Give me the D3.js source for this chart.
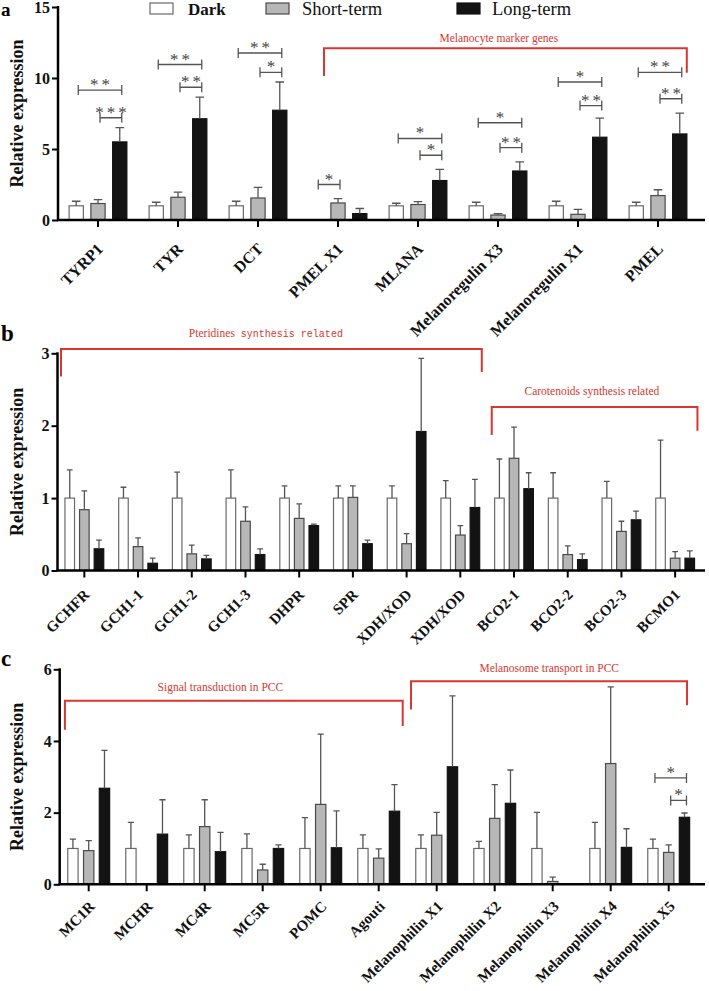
<!DOCTYPE html>
<html>
<head>
<meta charset="utf-8">
<script src="https://cdn.jsdelivr.net/npm/d3@7"></script>
<style>
body { margin: 0; background: #fff; }
text { font-family: "Liberation Serif", "Times New Roman", serif; }
</style>
</head>
<body>
<script>
const seriesNames = ["Dark", "Short-term", "Long-term"];

// panel a
const genesA = ["TYRP1", "TYR", "DCT", "PMEL X1", "MLANA", "Melanoregulin X3", "Melanoregulin X1", "PMEL"];
const darkA = [1, 1, 1, 0, 1, 1, 1, 1];
const darkErrA = [0.32, 0.25, 0.32, 0, 0.18, 0.25, 0.32, 0.25];
const shortA = [1.16, 1.6, 1.55, 1.2, 1.09, 0.35, 0.4, 1.72];
const shortErrA = [0.28, 0.37, 0.75, 0.3, 0.21, 0.1, 0.35, 0.41];
const longA = [5.5, 7.13, 7.73, 0.45, 2.78, 3.45, 5.83, 6.06];
const longErrA = [1.0, 1.53, 1.99, 0.36, 0.78, 0.65, 1.34, 1.46];
const ticksA = [0, 5, 10, 15];
const sigA = [
  { gene: 0, from: 0, to: 2, y: 9.15, label: "**" },
  { gene: 0, from: 1, to: 2, y: 7.2, label: "***" },
  { gene: 1, from: 0, to: 2, y: 10.95, label: "**" },
  { gene: 1, from: 1, to: 2, y: 9.35, label: "**" },
  { gene: 2, from: 0, to: 2, y: 11.76, label: "**" },
  { gene: 2, from: 1, to: 2, y: 10.4, label: "*" },
  { gene: 3, from: 0, to: 1, y: 2.5, label: "*" },
  { gene: 4, from: 0, to: 2, y: 5.74, label: "*" },
  { gene: 4, from: 1, to: 2, y: 4.56, label: "*" },
  { gene: 5, from: 0, to: 2, y: 6.85, label: "*" },
  { gene: 5, from: 1, to: 2, y: 5.09, label: "**" },
  { gene: 6, from: 0, to: 2, y: 9.72, label: "*" },
  { gene: 6, from: 1, to: 2, y: 8.06, label: "**" },
  { gene: 7, from: 0, to: 2, y: 10.4, label: "**" },
  { gene: 7, from: 1, to: 2, y: 8.54, label: "**" }
];
const groupsA = [
  { label: "Melanocyte marker genes", from: 3.325, to: 7.86, top: 12.1, legL: 10.14, legR: 10.37, at: 5.51, labelY: 12.57 }
];

// panel b
const genesB = ["GCHFR", "GCH1-1", "GCH1-2", "GCH1-3", "DHPR", "SPR", "XDH/XOD", "XDH/XOD", "BCO2-1", "BCO2-2", "BCO2-3", "BCMO1"];
const darkB = [1, 1, 1, 1, 1, 1, 1, 1, 1, 1, 1, 1];
const darkErrB = [0.39, 0.15, 0.36, 0.39, 0.17, 0.17, 0.17, 0.24, 0.54, 0.35, 0.23, 0.8];
const shortB = [0.84, 0.33, 0.23, 0.68, 0.72, 1.01, 0.37, 0.49, 1.55, 0.22, 0.54, 0.17];
const shortErrB = [0.26, 0.12, 0.12, 0.2, 0.2, 0.16, 0.14, 0.13, 0.43, 0.12, 0.14, 0.09];
const longB = [0.3, 0.1, 0.16, 0.22, 0.62, 0.37, 1.92, 0.87, 1.13, 0.15, 0.7, 0.17];
const longErrB = [0.12, 0.07, 0.05, 0.08, 0.02, 0.05, 1.01, 0.39, 0.22, 0.08, 0.12, 0.1];
const ticksB = [0, 1, 2, 3];
const groupsB = [
  { label: "Pteridines", tail: " synthesis related", from: 0.065, to: 7.9, top: 3.06, legL: 2.68, legR: 2.74, at: 3.88, labelY: 3.23 },
  { label: "Carotenoids synthesis related", from: 8.085, to: 11.915, top: 2.26, legL: 1.87, legR: 1.93, at: 9.95, labelY: 2.43 }
];

// panel c
const genesC = ["MC1R", "MCHR", "MC4R", "MC5R", "POMC", "Agouti", "Melanophilin X1", "Melanophilin X2", "Melanophilin X3", "Melanophilin X4", "Melanophilin X5"];
const darkC = [1, 1, 1, 1, 1, 1, 1, 1, 1, 1, 1];
const darkErrC = [0.26, 0.73, 0.38, 0.41, 0.86, 0.38, 0.38, 0.2, 1.01, 0.73, 0.26];
const shortC = [0.94, 0, 1.61, 0.4, 2.23, 0.73, 1.37, 1.84, 0.08, 3.37, 0.89];
const shortErrC = [0.28, 0, 0.75, 0.16, 1.96, 0.26, 0.64, 0.94, 0.12, 2.14, 0.21];
const longC = [2.68, 1.4, 0.91, 1.0, 1.02, 2.04, 3.28, 2.26, 0, 1.03, 1.87];
const longErrC = [1.06, 0.96, 0.54, 0.1, 1.03, 0.74, 1.98, 0.93, 0, 0.52, 0.12];
const ticksC = [0, 2, 4, 6];
const sigC = [
  { gene: 10, from: 0, to: 2, y: 2.97, label: "*" },
  { gene: 10, from: 1, to: 2, y: 2.34, label: "*" }
];
const groupsC = [
  { label: "Signal transduction in PCC", from: 0.09, to: 5.914, top: 5.12, legL: 4.31, legR: 4.42, at: 2.77, labelY: 5.4 },
  { label: "Melanosome transport in PCC", from: 6.057, to: 10.816, top: 5.67, legL: 4.88, legR: 5.0, at: 8.44, labelY: 5.93 }
];

const fills = ["#ffffff", "#b7b7b7", "#131313"];
const strokes = ["#6a6a6a", "#4a4a4a", "#131313"];
const red = "#d8372f";

const svg = d3.select("body").append("svg")
  .attr("width", 709)
  .attr("height", 991);

function drawPanel(opt) {
  const g = svg.append("g");
  const x = d3.scaleBand().domain(d3.range(opt.genes.length)).range(opt.xRange);
  const y = d3.scaleLinear().domain([0, opt.yMax]).range(opt.yRange);
  const bw = x.bandwidth();
  const barW = bw * 0.178, step = bw * 0.272, capW = barW * 0.6;
  const cx = (i, k) => x(i) + bw / 2 + (k - 1) * step;
  const xAt = pos => opt.xRange[0] + pos * bw;

  // bars + error bars
  opt.values.forEach((vals, k) => {
    const rows = vals.map((v, i) => ({ i, v, e: opt.errors[k][i] })).filter(d => d.v > 0);
    g.selectAll(null).data(rows).join("rect")
      .attr("x", d => cx(d.i, k) - barW / 2)
      .attr("y", d => y(d.v))
      .attr("width", barW)
      .attr("height", d => y(0) - y(d.v))
      .attr("fill", fills[k])
      .attr("stroke", strokes[k])
      .attr("stroke-width", 1.2);
    g.selectAll(null).data(rows.filter(d => d.e > 0)).join("path")
      .attr("d", d => `M${cx(d.i, k)},${y(d.v)}V${y(d.v + d.e)}M${cx(d.i, k) - capW / 2},${y(d.v + d.e)}h${capW}`)
      .attr("fill", "none")
      .attr("stroke", "#555")
      .attr("stroke-width", 1.3);
  });

  // y axis
  const ya = g.append("g")
    .attr("transform", `translate(${opt.xRange[0]},0)`)
    .call(d3.axisLeft(y).tickValues(opt.ticks).tickFormat(d3.format("d")).tickSize(6).tickPadding(2));
  ya.select(".domain").remove();
  ya.selectAll("line").attr("stroke", "#000").attr("stroke-width", 2);
  ya.selectAll("text")
    .attr("font-size", 16).attr("font-weight", "bold").attr("fill", "#111");
  g.append("line")
    .attr("x1", opt.xRange[0]).attr("x2", opt.xRange[0])
    .attr("y1", y(opt.yMax) - 1).attr("y2", y(0))
    .attr("stroke", "#000").attr("stroke-width", 2.5);

  // x axis
  const xa = g.append("g")
    .attr("transform", `translate(0,${y(0)})`)
    .call(d3.axisBottom(x).tickSize(7).tickFormat(i => opt.genes[i]));
  xa.select(".domain").remove();
  xa.selectAll("line").attr("stroke", "#000").attr("stroke-width", 2);
  xa.selectAll("text")
    .attr("y", 0).attr("dy", 0)
    .attr("text-anchor", "end")
    .attr("transform", `translate(${opt.labelShift},${opt.labelDrop}) rotate(-45)`)
    .attr("font-size", opt.labelSize).attr("font-weight", "bold").attr("fill", "#111");
  g.append("line")
    .attr("x1", opt.xRange[0] - 1).attr("x2", 705)
    .attr("y1", y(0)).attr("y2", y(0))
    .attr("stroke", "#000").attr("stroke-width", 2.5);

  // significance brackets
  (opt.sig || []).forEach(s => {
    const x1 = cx(s.gene, s.from) + 2, x2 = cx(s.gene, s.to) + 2, yy = y(s.y);
    g.append("path")
      .attr("d", `M${x1},${yy - 5}V${yy + 5}M${x1},${yy}H${x2}M${x2},${yy - 5}V${yy + 5}`)
      .attr("fill", "none").attr("stroke", "#555").attr("stroke-width", 1.3);
    g.append("text")
      .attr("x", (x1 + x2) / 2 + 1.5).attr("y", yy)
      .attr("text-anchor", "middle")
      .attr("font-size", 17).attr("letter-spacing", 3).attr("fill", "#444")
      .text(s.label);
  });

  // red group brackets
  opt.groups.forEach(gr => {
    g.append("path")
      .attr("d", `M${xAt(gr.from)},${y(gr.legL)}V${y(gr.top)}H${xAt(gr.to)}V${y(gr.legR)}`)
      .attr("fill", "none").attr("stroke", red).attr("stroke-width", 2);
    const t = g.append("text")
      .attr("x", xAt(gr.at)).attr("y", y(gr.labelY))
      .attr("text-anchor", "middle")
      .attr("font-size", 11.5).attr("fill", red);
    t.append("tspan").text(gr.label);
    if (gr.tail) {
      t.append("tspan").style("font-family", "'Liberation Mono', monospace").attr("font-size", 10).text(gr.tail);
    }
  });

  // y title and panel letter
  const midY = (y(0) + y(opt.yMax)) / 2;
  g.append("text")
    .attr("transform", `translate(23,${midY}) rotate(-90)`)
    .attr("text-anchor", "middle")
    .attr("font-size", 18).attr("font-weight", "bold").attr("fill", "#111")
    .text("Relative expression");
  g.append("text")
    .attr("x", 1).attr("y", opt.letterY)
    .attr("font-size", opt.letterSize).attr("font-weight", "bold").attr("fill", "#000")
    .text(opt.letter);
}

// legend
const legendBoxX = [150, 266, 457];
const legendTextX = [188, 302, 492];
const legendSize = [17, 18.5, 18.5];
seriesNames.forEach((name, k) => {
  svg.append("rect")
    .attr("x", legendBoxX[k]).attr("y", 3)
    .attr("width", 23).attr("height", 11)
    .attr("fill", fills[k]).attr("stroke", strokes[k]).attr("stroke-width", 1.2);
  svg.append("text")
    .attr("x", legendTextX[k]).attr("y", 15)
    .attr("font-size", legendSize[k])
    .attr("font-weight", k === 0 ? "bold" : "normal")
    .attr("fill", "#111")
    .text(name);
});

drawPanel({
  letter: "a", letterY: 16, letterSize: 19,
  genes: genesA, values: [darkA, shortA, longA], errors: [darkErrA, shortErrA, longErrA],
  yMax: 15, ticks: ticksA, xRange: [58, 698], yRange: [220, 7],
  labelSize: 16, labelShift: 6, labelDrop: 30, sig: sigA, groups: groupsA
});
drawPanel({
  letter: "b", letterY: 341, letterSize: 23,
  genes: genesB, values: [darkB, shortB, longB], errors: [darkErrB, shortErrB, longErrB],
  yMax: 3, ticks: ticksB, xRange: [57.5, 702], yRange: [570.5, 353.3],
  labelSize: 15, labelShift: 6, labelDrop: 25, groups: groupsB
});
drawPanel({
  letter: "c", letterY: 666, letterSize: 23,
  genes: genesC, values: [darkC, shortC, longC], errors: [darkErrC, shortErrC, longErrC],
  yMax: 6, ticks: ticksC, xRange: [59.7, 697.7], yRange: [884.3, 669.3],
  labelSize: 15, labelShift: 7, labelDrop: 23, sig: sigC, groups: groupsC
});
</script>
</body>
</html>
